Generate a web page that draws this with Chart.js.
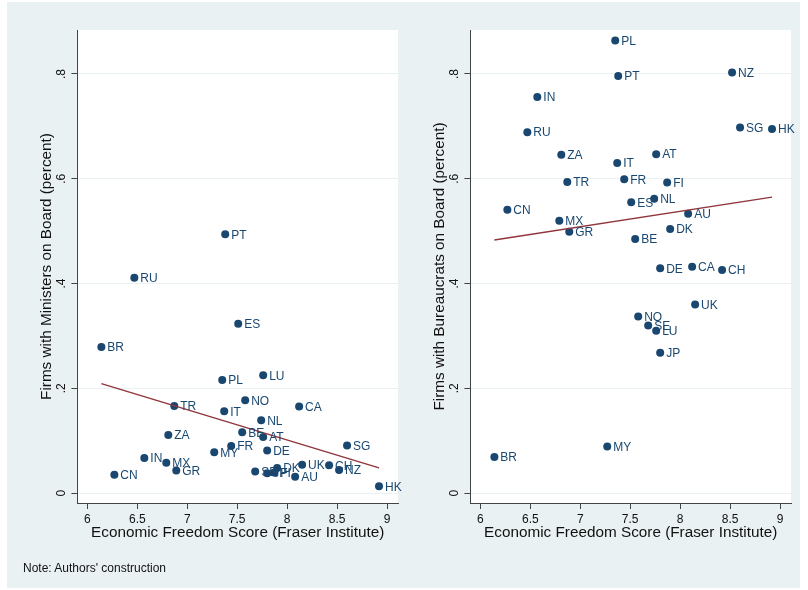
<!DOCTYPE html>
<html>
<head>
<meta charset="utf-8">
<script src="https://cdn.jsdelivr.net/npm/chart.js@4.4.1/dist/chart.umd.min.js"></script>
<style>
  html, body { margin: 0; padding: 0; background: #ffffff; }
  #frame { position: absolute; left: 7px; top: 2px; width: 793px; height: 586px; background: #eaf1f3; }
  canvas { position: absolute; left: 0; top: 0; }
  #note { position: absolute; left: 23px; top: 561px; font: 12px "Liberation Sans", Arial, sans-serif; color: #111; }
</style>
</head>
<body>
<div id="frame"></div>
<canvas id="ministers" width="808" height="590"></canvas>
<canvas id="bureaucrats" width="808" height="590"></canvas>
<div id="note">Note: Authors' construction</div>
<script>
// Country codes and their economic freedom scores (Fraser Institute)
const countries = ['PT','RU','ES','BR','PL','LU','NO','TR','IT','CA','NL','ZA','BE','AT','SG','FR',
                   'MY','DE','IN','MX','GR','CN','SE','DK','UK','CH','NZ','JP','AU','HK','FI'];
const freedomScore = [7.38, 6.47, 7.51, 6.14, 7.35, 7.76, 7.58, 6.87, 7.37, 8.12, 7.74, 6.81, 7.55, 7.76, 8.60, 7.44,
                      7.27, 7.80, 6.57, 6.79, 6.89, 6.27, 7.68, 7.90, 8.15, 8.42, 8.52, 7.80, 8.08, 8.92, 7.87];

// Share of firms with ministers on the board
const ministersShare = [0.494, 0.411, 0.323, 0.279, 0.216, 0.225, 0.177, 0.166, 0.156, 0.165, 0.139, 0.111, 0.116, 0.107, 0.091, 0.090,
                        0.078, 0.081, 0.067, 0.058, 0.043, 0.035, 0.041, 0.048, 0.054, 0.053, 0.044, 0.038, 0.031, 0.013, 0.039];

// Share of firms with bureaucrats on the board
const bureaucratsShare = [0.796, 0.689, 0.555, 0.069, 0.864, 0.310, 0.337, 0.594, 0.630, 0.432, 0.562, 0.646, 0.485, 0.647, 0.698, 0.599,
                          0.089, 0.429, 0.756, 0.520, 0.499, 0.541, 0.320, 0.504, 0.360, 0.426, 0.803, 0.268, 0.533, 0.695, 0.593];

// Linear fit lines (end points)
const ministersFitX = [6.14, 8.92];
const ministersFitY = [0.209, 0.048];
const bureaucratsFitX = [6.14, 8.92];
const bureaucratsFitY = [0.483, 0.565];

// Axis ticks
const xTicks = [6, 6.5, 7, 7.5, 8, 8.5, 9];
const xTickLabels = ['6', '6.5', '7', '7.5', '8', '8.5', '9'];
const yTicks = [0, 0.2, 0.4, 0.6, 0.8];
const yTickLabels = ['0', '.2', '.4', '.6', '.8'];

const FONT = '"Liberation Sans", Arial, Helvetica, sans-serif';
const NAVY = '#1a476f';
const MAROON = '#90353b';
const AXIS = '#444444';
const GRID = '#eaf1f3';
const TEXT = '#111111';

// White plot region behind the marks
const plotBackground = {
  id: 'plotBackground',
  beforeDraw(chart) {
    const { ctx, chartArea: a } = chart;
    ctx.save();
    ctx.fillStyle = '#ffffff';
    ctx.fillRect(a.left, a.top, a.right - a.left, a.bottom - a.top);
    ctx.restore();
  }
};

// Vertical-axis tick labels, written sideways
const sidewaysYTicks = {
  id: 'sidewaysYTicks',
  afterDraw(chart) {
    const { ctx, chartArea: a } = chart;
    const y = chart.scales.y;
    ctx.save();
    ctx.fillStyle = TEXT;
    ctx.font = '12px ' + FONT;
    ctx.textAlign = 'center';
    ctx.textBaseline = 'middle';
    yTicks.forEach((v, i) => {
      ctx.save();
      ctx.translate(a.left - 16, y.getPixelForValue(v));
      ctx.rotate(-Math.PI / 2);
      ctx.fillText(yTickLabels[i], 0, 0);
      ctx.restore();
    });
    ctx.restore();
  }
};

// Country code next to each marker
const markerLabels = {
  id: 'markerLabels',
  afterDatasetsDraw(chart) {
    const { ctx } = chart;
    const meta = chart.getDatasetMeta(1);
    ctx.save();
    ctx.fillStyle = NAVY;
    ctx.font = '12px ' + FONT;
    ctx.textAlign = 'left';
    ctx.textBaseline = 'middle';
    meta.data.forEach((pt, i) => {
      ctx.fillText(countries[i], pt.x + 6, pt.y + 1);
    });
    ctx.restore();
  }
};

function makePanel(id, shares, fitX, fitY, yTitle, padLeft, padRight) {
  const points = freedomScore.map((x, i) => ({ x: x, y: shares[i] }));
  const fit = fitX.map((x, i) => ({ x: x, y: fitY[i] }));
  return new Chart(document.getElementById(id), {
    type: 'scatter',
    data: {
      datasets: [
        {
          type: 'line',
          data: fit,
          borderColor: MAROON,
          borderWidth: 1.4,
          pointRadius: 0,
          fill: false,
          order: 0
        },
        {
          data: points,
          backgroundColor: NAVY,
          borderColor: NAVY,
          borderWidth: 0,
          pointRadius: 4,
          order: 1
        }
      ]
    },
    options: {
      responsive: false,
      animation: false,
      devicePixelRatio: 1,
      layout: { padding: { left: padLeft, right: padRight, top: 30, bottom: 48 } },
      plugins: { legend: { display: false }, tooltip: { enabled: false } },
      scales: {
        x: {
          type: 'linear',
          min: 5.9,
          max: 9.11,
          afterBuildTicks: s => { s.ticks = xTicks.map(v => ({ value: v })); },
          afterFit: s => { s.height = 39; },
          ticks: {
            font: { family: FONT, size: 12 },
            color: TEXT,
            padding: 3,
            maxRotation: 0,
            autoSkip: false,
            callback: (v, i) => xTickLabels[i]
          },
          grid: { drawOnChartArea: false, tickLength: 6, tickColor: AXIS, tickWidth: 1 },
          border: { display: true, color: AXIS, width: 1 },
          title: {
            display: true,
            text: 'Economic Freedom Score (Fraser Institute)',
            font: { family: FONT, size: 15.3 },
            color: TEXT,
            padding: 0
          }
        },
        y: {
          type: 'linear',
          min: -0.019,
          max: 0.884,
          afterBuildTicks: s => { s.ticks = yTicks.map(v => ({ value: v })); },
          afterFit: s => { s.width = 39.6; },
          ticks: { display: false },
          grid: { color: GRID, lineWidth: 1, drawTicks: true, tickLength: 6, tickColor: AXIS, tickWidth: 1 },
          border: { display: true, color: AXIS, width: 1 },
          title: {
            display: true,
            text: yTitle,
            font: { family: FONT, size: 15.3 },
            color: TEXT,
            padding: 0
          }
        }
      }
    },
    plugins: [plotBackground, sidewaysYTicks, markerLabels]
  });
}

makePanel('ministers', ministersShare, ministersFitX, ministersFitY,
          'Firms with Ministers on Board (percent)', 37.8, 410);
makePanel('bureaucrats', bureaucratsShare, bureaucratsFitX, bureaucratsFitY,
          'Firms with Bureaucrats on Board (percent)', 430.8, 17);
</script>
</body>
</html>
